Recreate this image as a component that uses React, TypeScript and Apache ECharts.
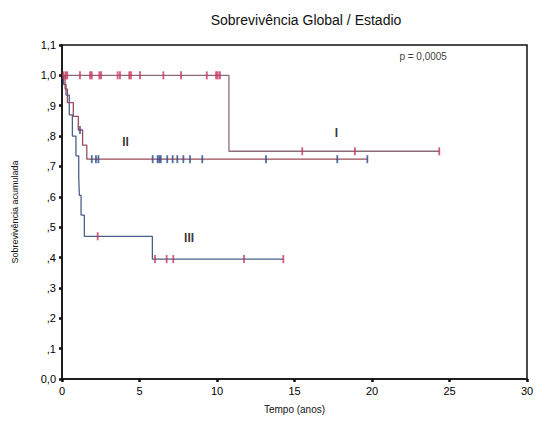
import React, { useEffect, useRef } from "react";
import * as echarts from "echarts";

// Kaplan-Meier steps: [time, survival from that time on]
const stageISteps: [number, number][] = [[0, 1.0], [10.77, 0.75], [24.34, 0.75]];
const stageICensored: number[] = [0.1, 0.24, 0.34, 1.16, 1.81, 1.92, 2.41, 2.52, 3.59, 3.74, 4.34, 4.45, 5.03, 6.54, 7.68, 9.34, 9.94, 10.05, 10.19, 15.5, 18.9, 24.34];

const stageIISteps: [number, number][] = [[0, 1.0], [0.2, 0.955], [0.35, 0.91], [0.73, 0.865], [1.05, 0.82], [1.33, 0.77], [1.6, 0.724], [19.7, 0.724]];
const stageIICensored: number[] = [1.16, 1.92, 2.19, 2.35, 5.85, 6.17, 6.28, 6.37, 6.79, 7.14, 7.44, 7.83, 8.26, 9.05, 13.16, 17.76, 19.7];
const stageIICensoredLevels: number[] = [0.82, 0.724, 0.724, 0.724, 0.724, 0.724, 0.724, 0.724, 0.724, 0.724, 0.724, 0.724, 0.724, 0.724, 0.724, 0.724, 0.724];

const stageIIISteps: [number, number][] = [[0, 1.0], [0.1, 0.97], [0.26, 0.935], [0.47, 0.87], [0.67, 0.8], [0.9, 0.735], [1.08, 0.665], [1.12, 0.605], [1.23, 0.54], [1.44, 0.47], [5.83, 0.395], [14.28, 0.395]];
const stageIIICensored: number[] = [2.3, 6.0, 6.75, 7.18, 11.74, 14.28];

const curveLabels: { name: string; value: [number, number] }[] = [
  { name: "I", value: [17.7, 0.81] },
  { name: "II", value: [4.1, 0.78] },
  { name: "III", value: [8.2, 0.465] },
];
const pValueText = "p = 0,0005";
const pValuePos: [number, number] = [23.3, 1.063];

const xTicks = { min: 0, max: 30, interval: 5 };
const yTicks = { min: 0, max: 1.1, interval: 0.1 };

function levelAt(steps: [number, number][], t: number): number {
  let v = steps[0][1];
  for (const [st, sv] of steps) {
    if (st <= t) v = sv;
  }
  return v;
}

const RED = "#c8325a";
const BLUE = "#2c4a8c";
const FONT = "Liberation Sans, Arial, sans-serif";

export default function App() {
  const ref = useRef<HTMLDivElement>(null);
  useEffect(() => {
    if (!ref.current) return;
    const chart = echarts.init(ref.current, undefined, { renderer: "svg" });
    const lineSeries = (data: [number, number][], color: string, z: number) => ({
      type: "line",
      step: "end",
      data,
      symbol: "none",
      lineStyle: { color, width: 1.3 },
      z,
      silent: true,
    });
    const tickSeries = (data: [number, number][], color: string, z: number) => ({
      type: "scatter",
      data,
      symbol: "rect",
      symbolSize: [1.8, 8],
      itemStyle: { color },
      z,
      silent: true,
    });
    chart.setOption({
      animation: false,
      backgroundColor: "#ffffff",
      title: {
        text: "Sobrevivência Global / Estadio",
        left: 301,
        textAlign: "center",
        top: 8,
        textStyle: { fontFamily: FONT, fontSize: 14, fontWeight: "normal", color: "#111" },
      },
      grid: {
        left: 62,
        right: 24,
        top: 45,
        bottom: 63,
        show: true,
        borderColor: "#111",
        borderWidth: 1.5,
        backgroundColor: "transparent",
      },
      xAxis: {
        type: "value",
        min: xTicks.min,
        max: xTicks.max,
        interval: xTicks.interval,
        name: "Tempo (anos)",
        nameLocation: "middle",
        nameGap: 25,
        nameTextStyle: { fontFamily: FONT, fontSize: 10, color: "#111" },
        axisLine: { show: true, lineStyle: { color: "#111", width: 1.5 } },
        axisTick: { show: true, length: 3, lineStyle: { color: "#111", width: 2.5 } },
        axisLabel: { fontFamily: FONT, fontSize: 11, color: "#000", margin: 6 },
        splitLine: { show: false },
      },
      yAxis: {
        type: "value",
        min: yTicks.min,
        max: yTicks.max,
        interval: yTicks.interval,
        name: "Sobrevivência acumulada",
        nameLocation: "middle",
        nameRotate: 90,
        nameGap: 43,
        nameTextStyle: { fontFamily: FONT, fontSize: 9, color: "#111" },
        axisLine: { show: true, lineStyle: { color: "#111", width: 1.5 } },
        axisTick: { show: true, length: 3, lineStyle: { color: "#111", width: 2.5 } },
        axisLabel: {
          fontFamily: FONT,
          fontSize: 11,
          color: "#000",
          margin: 6,
          formatter: (v: number) => {
            const s = v.toFixed(1).replace(".", ",");
            return s.startsWith("0,") && v !== 0 ? s.slice(1) : s;
          },
        },
        splitLine: { show: false },
      },
      series: [
        lineSeries(stageIIISteps, "#4a6088", 3),
        lineSeries(stageIISteps, "#9a4a5a", 4),
        lineSeries(stageISteps, "#8a6a7a", 5),
        tickSeries(stageIIICensored.map((t) => [t, levelAt(stageIIISteps, t)] as [number, number]), RED, 6),
        tickSeries(stageIICensored.map((t, i) => [t, stageIICensoredLevels[i]] as [number, number]), BLUE, 6),
        tickSeries(stageICensored.map((t) => [t, levelAt(stageISteps, t)] as [number, number]), RED, 7),
        {
          type: "scatter",
          data: curveLabels,
          symbolSize: 0,
          silent: true,
          label: {
            show: true,
            position: "inside",
            formatter: (p: any) => p.name,
            fontFamily: FONT,
            fontSize: 12,
            fontWeight: "bold",
            color: "#000",
          },
          z: 8,
        },
        {
          type: "scatter",
          data: [{ name: pValueText, value: pValuePos }],
          symbolSize: 0,
          silent: true,
          label: {
            show: true,
            position: "inside",
            formatter: (p: any) => p.name,
            fontFamily: FONT,
            fontSize: 10,
            color: "#000",
          },
          z: 8,
        },
      ],
    });
    return () => chart.dispose();
  }, []);
  return (
    <div
      ref={ref}
      style={{ position: "fixed", left: 0, top: 0, width: 551, height: 442, background: "#fff" }}
    />
  );
}
